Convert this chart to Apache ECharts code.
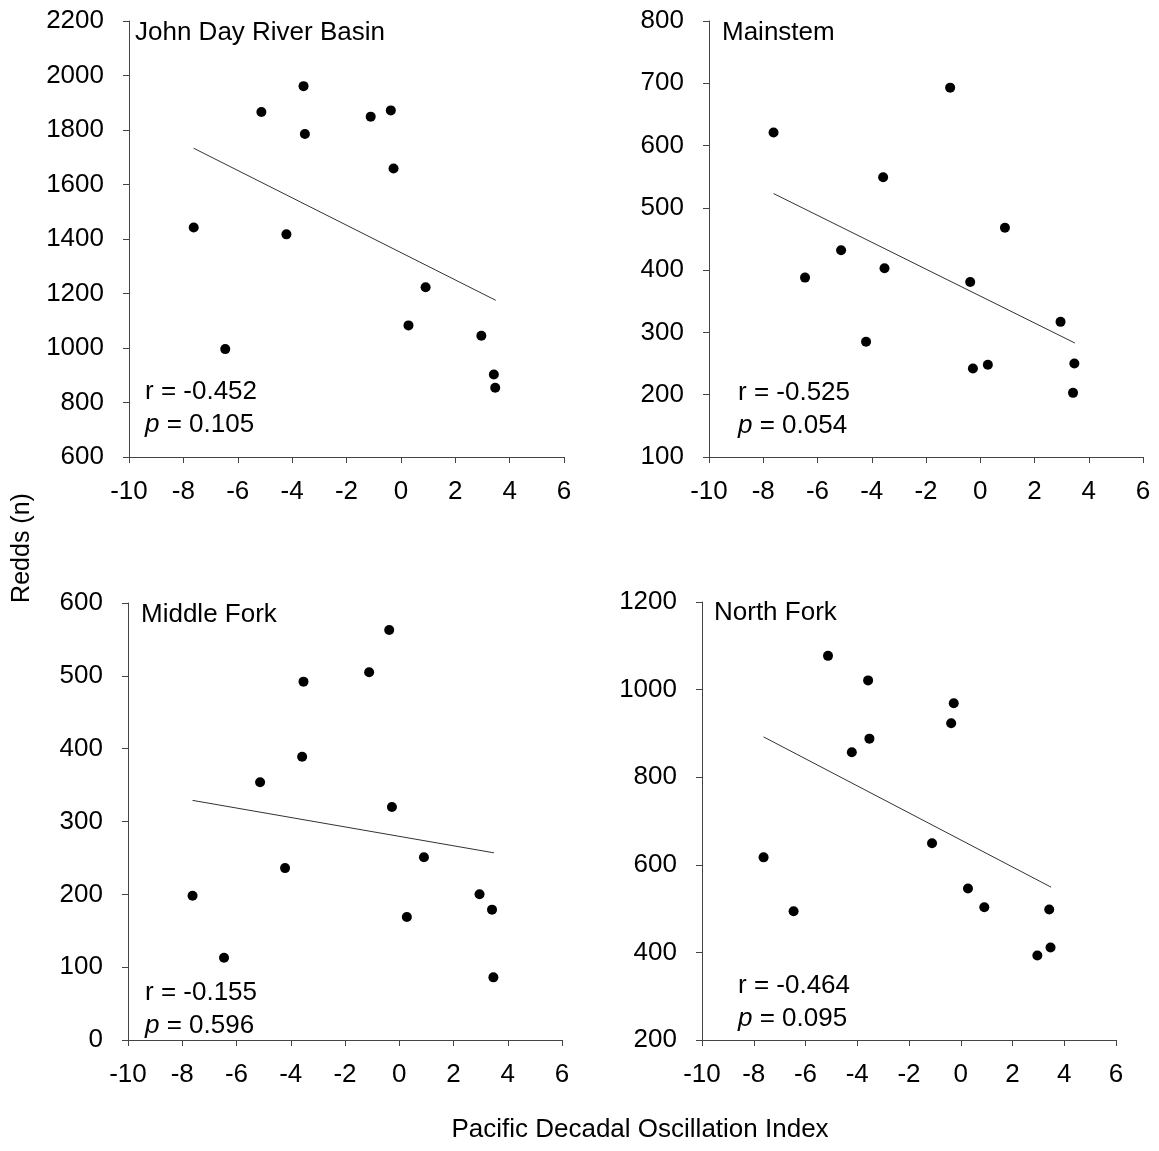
<!DOCTYPE html>
<html>
<head>
<meta charset="utf-8">
<script src="https://cdn.jsdelivr.net/npm/echarts@6/dist/echarts.min.js"></script>
<style>
html,body{margin:0;padding:0;background:#fff;}
#chart{width:1159px;height:1151px;}
</style>
</head>
<body>
<div id="chart"></div>
<script>
// PDO index values (shared x for all panels)
const pdo = [-7.62, -6.46, -5.13, -4.21, -3.58, -3.53, -1.11, -0.37, -0.27, 0.28, 0.91, 2.96, 3.42, 3.47];
// Redds per panel, aligned with pdo
const basinRedds    = [1442, 996, 1866, 1417, 1961, 1785, 1849, 1872, 1659, 1083, 1223, 1045, 903, 854];
const mainstemRedds = [621, 388, 432, 285, 549, 403, 693, 381, 242, 248, 468, 317, 203, 250];
const middleRedds   = [198, 113, 354, 236, 389, 492, 505, 563, 320, 169, 251, 200, 179, 86];
const northRedds    = [617, 494, 1077, 857, 1021, 888, 649, 923, 969, 546, 503, 393, 498, 411];
// Regression line endpoints
const trendX = [-7.62, 3.49];
const basinTrend    = [1733, 1175];
const mainstemTrend = [523, 283];
const middleTrend   = [329, 257];
const northTrend    = [892, 549];
// Panel labels and stats
const panelNames = ['John Day River Basin', 'Mainstem', 'Middle Fork', 'North Fork'];
const rValues = ['-0.452', '-0.525', '-0.155', '-0.464'];
const pValues = ['0.105', '0.054', '0.596', '0.095'];
// y-axis ranges
const yMins = [600, 100, 0, 200];
const yMaxs = [2200, 800, 600, 1200];
const yIntervals = [200, 100, 100, 200];
// x-axis range
const xMin = -10, xMax = 6, xInterval = 2;

const reddsAll = [basinRedds, mainstemRedds, middleRedds, northRedds];
const trendsAll = [basinTrend, mainstemTrend, middleTrend, northTrend];

const FONT = '"Liberation Sans", Arial, sans-serif';
const FS = 26;
const AX = '#444';

const grids = [
  {left: 129, top: 21, width: 435, height: 436},
  {left: 709, top: 21, width: 434, height: 436},
  {left: 128, top: 603, width: 434, height: 437},
  {left: 702, top: 602, width: 414, height: 438}
];

const xAxes = grids.map((g, i) => ({
  gridIndex: i, type: 'value', min: xMin, max: xMax, interval: xInterval,
  axisLine: {show: true, onZero: false, lineStyle: {color: AX, width: 1}},
  axisTick: {show: true, inside: false, length: 6, lineStyle: {color: AX}},
  axisLabel: {color: '#000', fontSize: FS, fontFamily: FONT, margin: 22,
    formatter: v => String(v)},
  splitLine: {show: false}
}));
const yAxes = grids.map((g, i) => ({
  gridIndex: i, type: 'value', min: yMins[i], max: yMaxs[i], interval: yIntervals[i],
  axisLine: {show: true, onZero: false, lineStyle: {color: AX, width: 1}},
  axisTick: {show: true, inside: false, length: 6, lineStyle: {color: AX}},
  axisLabel: {color: '#000', fontSize: FS, fontFamily: FONT, margin: 25,
    formatter: v => String(v)},
  splitLine: {show: false}
}));

const series = [];
reddsAll.forEach((arr, i) => {
  series.push({
    type: 'scatter', xAxisIndex: i, yAxisIndex: i,
    data: arr.map((v, k) => [pdo[k], v]),
    symbol: 'circle', symbolSize: 10,
    itemStyle: {color: '#000', opacity: 1}, silent: true
  });
  series.push({
    type: 'line', xAxisIndex: i, yAxisIndex: i,
    data: trendX.map((x, k) => [x, trendsAll[i][k]]),
    symbol: 'none', lineStyle: {color: '#333', width: 1}, silent: true
  });
});

const titlePos = [[135, 35], [722, 35], [141, 617], [714, 615]];
const statPos = [[145, 394], [738, 395], [145, 995], [738, 988]];
const graphics = [];
panelNames.forEach((name, i) => {
  graphics.push({type: 'text', left: titlePos[i][0], top: titlePos[i][1] - 15,
    style: {text: name, fontSize: FS, fontFamily: FONT, fill: '#000'}});
  graphics.push({type: 'text', left: statPos[i][0], top: statPos[i][1] - 15,
    style: {text: 'r = ' + rValues[i], fontSize: FS, fontFamily: FONT, fill: '#000'}});
  graphics.push({type: 'text', left: statPos[i][0], top: statPos[i][1] + 18,
    style: {text: '{it|p} = ' + pValues[i], fontSize: FS, fontFamily: FONT, fill: '#000',
      rich: {it: {fontStyle: 'italic', fontSize: FS, fontFamily: FONT, fill: '#000'}}}});
});
graphics.push({type: 'text', x: 640, y: 1130,
  style: {text: 'Pacific Decadal Oscillation Index', fontSize: FS, fontFamily: FONT, fill: '#000',
    align: 'center', verticalAlign: 'middle'}});
graphics.push({type: 'text', x: 22, y: 548, rotation: Math.PI / 2,
  style: {text: 'Redds (n)', fontSize: 25, fontFamily: FONT, fill: '#000', align: 'center', verticalAlign: 'middle'}});

const chart = echarts.init(document.getElementById('chart'), null, {renderer: 'canvas'});
chart.setOption({
  animation: false,
  backgroundColor: '#fff',
  grid: grids,
  xAxis: xAxes,
  yAxis: yAxes,
  series: series,
  graphic: graphics
});
</script>
</body>
</html>
